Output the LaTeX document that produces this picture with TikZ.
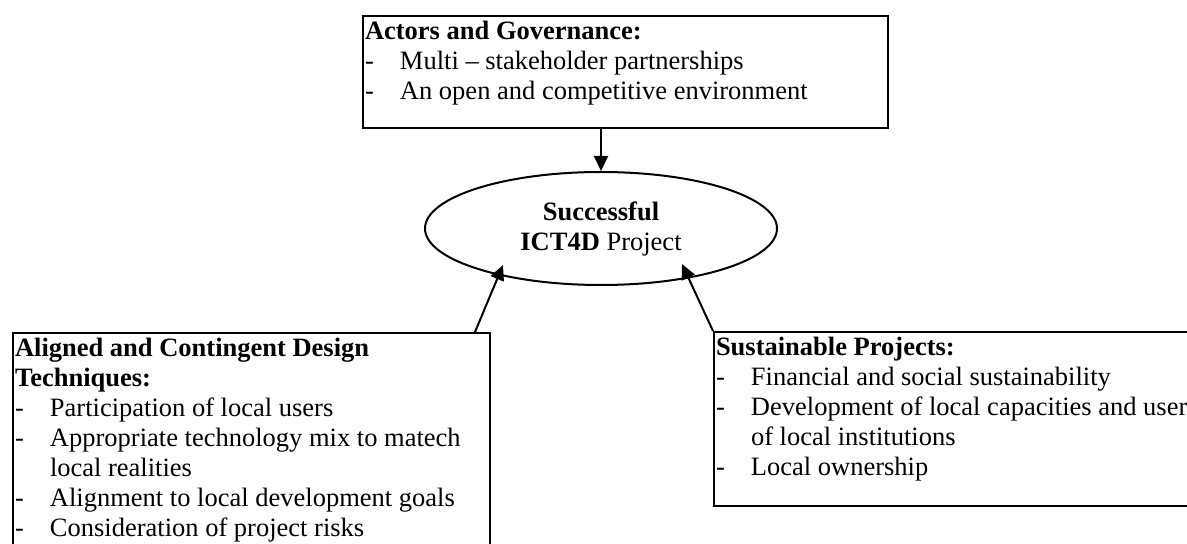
\documentclass[tikz,border=0pt]{standalone}
\usepackage{fontspec}
\setmainfont{Liberation Serif}
\usetikzlibrary{shapes.geometric}
\usetikzlibrary{arrows.meta}
\usetikzlibrary{positioning}

\newcommand{\itemdash}[1]{\makebox[17.5pt][l]{-}#1}
\newcommand{\itemcont}[1]{\hspace*{17.5pt}#1}
\newcommand{\boxcontent}[3]{\begin{minipage}[t][#2][t]{#1}\fontsize{13.25}{15}\selectfont\rule{0pt}{12pt}#3\end{minipage}}

\tikzset{
  box/.style={draw, rectangle, line width=1pt, inner xsep=1pt, inner ysep=0pt, anchor=north west},
  goalnode/.style={draw, ellipse, line width=1pt, inner sep=0pt, align=center,
    minimum width=176pt, minimum height=56.5pt, font=\fontsize{13.25}{15}\selectfont},
  arr/.style={line width=1pt, -{Triangle[length=7.5pt,width=7pt]}}
}

\begin{document}
\begin{tikzpicture}[x=0.5pt, y=-0.5pt]
\useasboundingbox (0,0) rectangle (1187,544);
\clip (0,0) rectangle (1187,544);

\node[box] (gov) at (362,15) {\boxcontent{260.5pt}{56pt}{%
  \textbf{Actors and Governance:}\\
  \itemdash{Multi -- stakeholder partnerships}\\
  \itemdash{An open and competitive environment}}};

\node[goalnode] (goal) at (601,228.5) {\textbf{Successful}\\\textbf{ICT4D} Project};

\node[box] (design) at (12,332) {\boxcontent{236.5pt}{140pt}{%
  \textbf{Aligned and Contingent Design}\\
  \textbf{Techniques:}\\
  \itemdash{Participation of local users}\\
  \itemdash{Appropriate technology mix to matech}\\
  \itemcont{local realities}\\
  \itemdash{Alignment to local development goals}\\
  \itemdash{Consideration of project risks}}};

\node[box] (sust) at (713,331) {\boxcontent{271.5pt}{87pt}{%
  \textbf{Sustainable Projects:}\\
  \itemdash{Financial and social sustainability}\\
  \itemdash{Development of local capacities and user}\\
  \itemcont{of local institutions}\\
  \itemdash{Local ownership}}};

\draw[arr] (gov.south -| goal.north) -- (goal.north);
\draw[arr] ([xshift=-8pt]design.north east) -- ([shift={(-49pt,-18.25pt)}]goal.center);
\draw[arr] (sust.north west) -- ([shift={(40.5pt,-17.75pt)}]goal.center);
\end{tikzpicture}
\end{document}
